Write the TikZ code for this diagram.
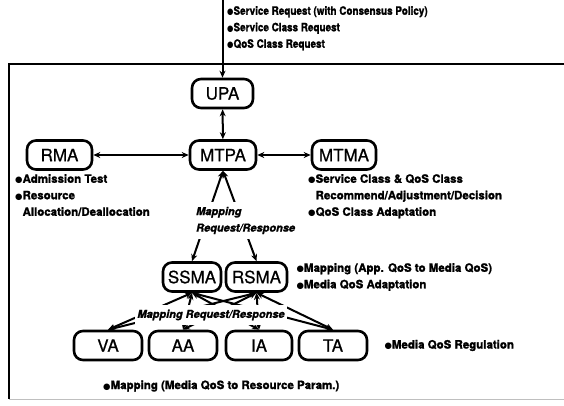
\documentclass[tikz,border=0pt]{standalone}
\usepackage{fontspec}
\setmainfont{TeX Gyre Heros}
\newfontfamily\heavyfont[Extension=.otf, FakeBold=1.6]{texgyreheros-bold}
\newfontfamily\heavyitfont[Extension=.otf, FakeBold=1.6]{texgyreheros-bolditalic}
\newfontfamily\agentfont[Extension=.otf, FakeBold=0.7]{texgyreheros-regular}
\newfontfamily\bulletfont{DejaVu Sans}
\newcommand{\bl}{{\bulletfont\fontsize{8.5}{8.5}\selectfont ●}}
\newcommand{\nobl}{\phantom{\bl}}
\usetikzlibrary{arrows.meta}
\usetikzlibrary{positioning}

\tikzset{
  agent/.style={draw, line width=2.6pt, rounded corners=9pt, minimum height=29pt,
    inner sep=3pt, font=\agentfont\fontsize{17}{17}\selectfont},
  media/.style={agent, minimum width=68pt},
  note/.style={align=left, inner sep=0pt, font=\heavyfont\fontsize{11.5}{16.5}\selectfont},
  maplabel/.style={align=left, fill=white, inner xsep=2pt, inner ysep=5pt,
    font=\heavyitfont\fontsize{11}{16.5}\selectfont},
  link/.style={<->, line width=2pt},
}

\begin{document}
\begin{tikzpicture}[x=1pt, y=-1pt, >={Stealth[length=7pt,width=6pt]}]
\useasboundingbox (0,0) rectangle (564,405);

% frame of the agent system
\draw[line width=2.4pt] (564,64) -- (9,64) -- (9,399);
\draw[gray!50, line width=1pt] (9,399) -- (564,399);

% agents
\node[agent, minimum width=61pt] (upa) at (222.5,93.5) {UPA};
\node[agent, minimum width=66pt] (mtpa) at (223,155) {MTPA};
\node[agent, minimum width=65pt] (rma) at (59.5,155) {RMA};
\node[agent, minimum width=64pt] (mtma) at (344,155) {MTMA};
\node[agent, minimum width=58pt] (ssma) at (192,277) {SSMA};
\node[agent, minimum width=61pt] (rsma) at (256.5,277) {RSMA};
\node[media] (va) at (108,345.5) {VA};
\node[media] (aa) at (183,345.5) {AA};
\node[media, minimum width=66pt] (ia) at (259,345.5) {IA};
\node[media] (ta) at (333,345.5) {TA};

% incoming request
\coordinate (req) at (222.5,0);
\draw[->, line width=2pt] (req) -- (upa);
\node[note, anchor=north west, xscale=0.86] (reqnote) at (227,6)
  {\bl Service Request (with Consensus Policy)\\
   \bl Service Class Request\\
   \bl QoS Class Request};

% agent links
\draw[link] (upa) -- (mtpa);
\draw[link] (rma) -- (mtpa);
\draw[link] (mtpa) -- (mtma);
\draw[link] (mtpa.south) -- (ssma.north);
\draw[link] (mtpa.south) -- (rsma.north);
\foreach \s in {ssma,rsma}
  \foreach \m in {va,aa,ia,ta}
    \draw[link] (\s.south) -- (\m.north);

% labels on the links
\node[maplabel, anchor=west] (map1) at (194,220.5) {Mapping\\Request/Response};
\node[maplabel] (map2) at (211,315) {Mapping Request/Response};

% agent duties
\node[note, anchor=north west] (rmanote) at (15,174)
  {\bl Admission Test\\
   \bl Resource\\
   \nobl Allocation/Deallocation};
\node[note, anchor=north west] (mtmanote) at (308,174)
  {\bl Service Class \& QoS Class\\
   \nobl Recommend/Adjustment/Decision\\
   \bl QoS Class Adaptation};
\node[note, right=8pt of rsma] (smanote)
  {\bl Mapping (App. QoS to Media QoS)\\
   \bl Media QoS Adaptation};
\node[note, right=16pt of ta] (tanote) {\bl Media QoS Regulation};
\node[note, anchor=west] (vanote) at (103,386)
  {\bl Mapping (Media QoS to Resource Param.)};
\end{tikzpicture}
\end{document}
